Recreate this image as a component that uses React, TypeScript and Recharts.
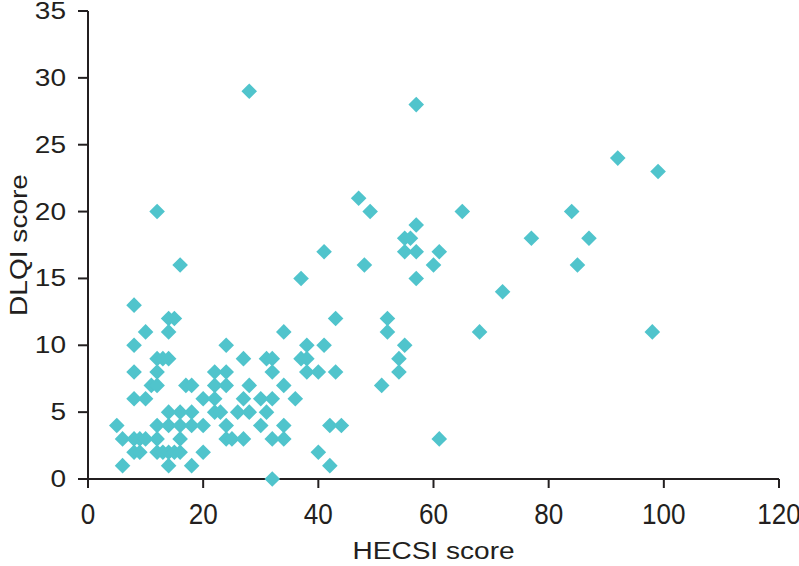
import { ScatterChart, Scatter, XAxis, YAxis } from "recharts";

// HECSI score (x) and DLQI score (y) per patient
const hecsi = [
  5, 6, 6, 8, 8, 8, 8, 8, 8, 9, 9, 10, 10, 10, 11, 12, 12, 12, 12, 12, 12, 12,
  13, 13, 14, 14, 14, 14, 14, 14, 14, 15, 15, 16, 16, 16, 16, 16, 17, 18, 18,
  18, 18, 20, 20, 20,
  22, 22, 22, 22, 23, 24, 24, 24, 24, 24, 25, 26, 27, 27, 27, 28, 28, 28, 30,
  30, 31, 31, 32, 32, 32, 32, 32, 34, 34, 34, 34, 36,
  37, 37, 38, 38, 38, 40, 40, 41, 41, 42, 42, 43, 43, 44, 47, 48, 49, 51, 52,
  52, 54, 54, 55, 55, 55, 56, 57, 57, 57, 57, 60, 61, 61, 65, 68, 72, 77, 84,
  85, 87, 92, 98, 99,
];
const dlqi = [
  4, 3, 1, 13, 10, 8, 6, 3, 2, 3, 2, 11, 6, 3, 7, 20, 9, 8, 7, 4, 3, 2,
  9, 2, 12, 11, 9, 5, 4, 2, 1, 12, 2, 16, 5, 4, 3, 2, 7, 7, 5,
  4, 1, 6, 4, 2,
  8, 7, 6, 5, 5, 10, 8, 7, 4, 3, 3, 5, 9, 6, 3, 29, 7, 5, 6,
  4, 9, 5, 9, 8, 6, 3, 0, 11, 7, 4, 3, 6,
  15, 9, 10, 9, 8, 8, 2, 17, 10, 4, 1, 12, 8, 4, 21, 16, 20, 7, 12,
  11, 9, 8, 18, 17, 10, 18, 28, 19, 17, 15, 16, 17, 3, 20, 11, 14, 18, 20,
  16, 18, 24, 11, 23,
];

const xTicks = [0, 20, 40, 60, 80, 100, 120];
const yTicks = [0, 5, 10, 15, 20, 25, 30, 35];

const data = hecsi.map((x, i) => ({ x, y: dlqi[i] }));

const INK = "#231f20";
const TEAL = "#50c4cc";
const FONT = "'Liberation Sans', Arial, sans-serif";

const Diamond = (props: any) => {
  const { cx, cy } = props;
  const r = 7.8;
  return (
    <polygon
      points={`${cx},${cy - r} ${cx + r},${cy} ${cx},${cy + r} ${cx - r},${cy}`}
      fill={TEAL}
    />
  );
};

const YTick = ({ x, y, payload }: any) => (
  <text
    transform={`translate(${x - 10},${y + 8}) scale(1.22,1)`}
    textAnchor="end"
    fontSize={23}
    fontFamily={FONT}
    fill={INK}
  >
    {payload.value}
  </text>
);

const XTick = ({ x, y, payload }: any) => (
  <text
    transform={`translate(${x},${y + 34}) scale(0.9,1)`}
    textAnchor="middle"
    fontSize={29}
    fontFamily={FONT}
    fill={INK}
  >
    {payload.value}
  </text>
);

const XTitle = ({ viewBox }: any) => {
  const cx = viewBox.x + viewBox.width / 2;
  return (
    <text
      transform={`translate(${cx},559) scale(1.17,1)`}
      textAnchor="middle"
      fontSize={24}
      fontFamily={FONT}
      fill={INK}
    >
      HECSI score
    </text>
  );
};

const YTitle = ({ viewBox }: any) => {
  const cy = viewBox.y + viewBox.height / 2;
  return (
    <text
      transform={`translate(27,${cy}) rotate(-90) scale(1.17,1)`}
      textAnchor="middle"
      fontSize={24}
      fontFamily={FONT}
      fill={INK}
    >
      DLQI score
    </text>
  );
};

export default function App() {
  return (
    <div style={{ position: "absolute", left: 0, top: 0, background: "#fff" }}>
      <ScatterChart width={799} height={566} margin={{ top: 11, right: 20, left: 0, bottom: 0 }}>
        <XAxis
          type="number"
          dataKey="x"
          domain={[0, 120]}
          ticks={xTicks}
          height={87}
          tickSize={9}
          axisLine={{ stroke: INK, strokeWidth: 2 }}
          tickLine={{ stroke: INK, strokeWidth: 2 }}
          tick={<XTick />}
          label={<XTitle />}
        />
        <YAxis
          type="number"
          dataKey="y"
          domain={[0, 35]}
          ticks={yTicks}
          width={88}
          tickSize={10}
          axisLine={{ stroke: INK, strokeWidth: 2 }}
          tickLine={{ stroke: INK, strokeWidth: 2 }}
          tick={<YTick />}
          label={<YTitle />}
        />
        <Scatter data={data} shape={Diamond} isAnimationActive={false} />
      </ScatterChart>
    </div>
  );
}
